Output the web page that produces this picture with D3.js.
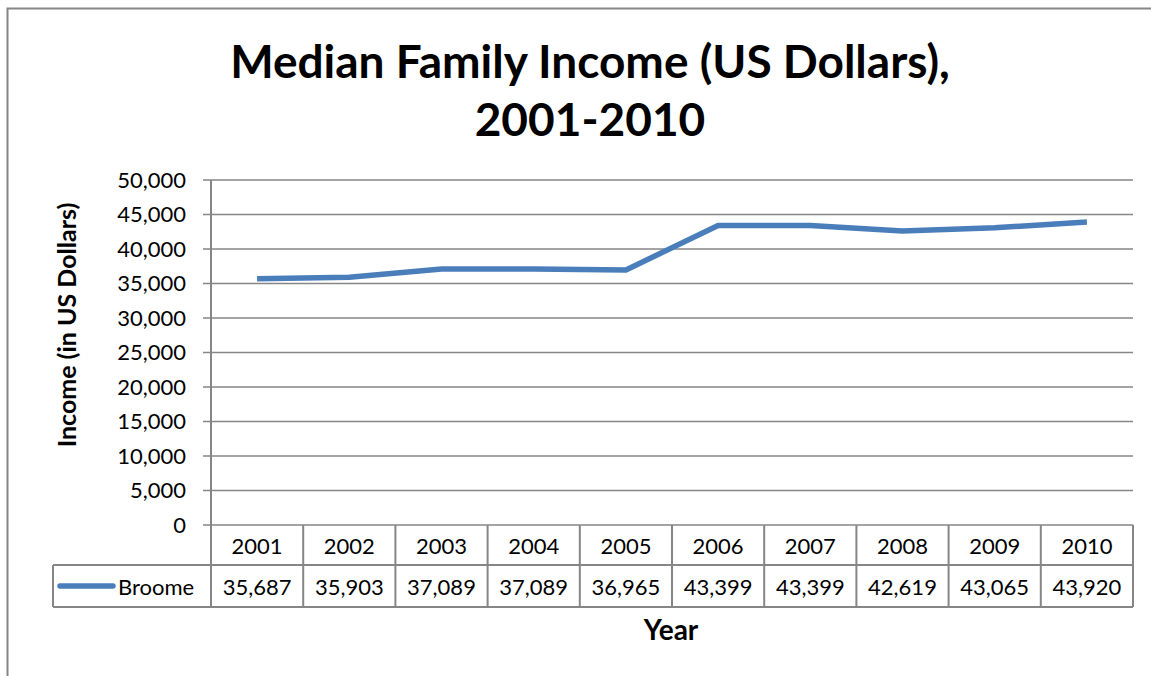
<!DOCTYPE html>
<meta charset="utf-8">
<style>
body { margin: 0; background: #fff; }
text { font-family: Lato, "Open Sans", sans-serif; fill: #000; }
</style>
<body>
<script src="https://d3js.org/d3.v7.min.js"></script>
<script>
// data
var years = ["2001","2002","2003","2004","2005","2006","2007","2008","2009","2010"];
var broome = [35687, 35903, 37089, 37089, 36965, 43399, 43399, 42619, 43065, 43920];
var yTicks = [0, 5000, 10000, 15000, 20000, 25000, 30000, 35000, 40000, 45000, 50000];
var seriesName = "Broome";

var W = 1151, H = 676;
var plotLeft = 211, plotRight = 1133, plotTop = 180, plotBottom = 525;
var row1 = 565, row2 = 607, legendLeft = 53;
var grey = "#868686", blue = "#4a7ebb";

var svg = d3.select("body").append("svg")
    .attr("width", W)
    .attr("height", H);

// chart border
svg.append("rect")
    .attr("x", 7.5).attr("y", 8.5)
    .attr("width", W + 20).attr("height", H + 20)
    .attr("fill", "none").attr("stroke", grey).attr("stroke-width", 2);

var x = d3.scaleBand().domain(years).range([plotLeft, plotRight]).padding(0);
var y = d3.scaleLinear().domain([0, 50000]).range([plotBottom, plotTop]);

// gridlines + ticks
svg.append("g").selectAll("line")
    .data(yTicks)
  .enter().append("line")
    .attr("x1", plotLeft - 8).attr("x2", plotRight)
    .attr("y1", function(d) { return y(d); })
    .attr("y2", function(d) { return y(d); })
    .attr("stroke", grey).attr("stroke-width", 1.5);

svg.append("g").selectAll("text")
    .data(yTicks)
  .enter().append("text")
    .attr("x", 186)
    .attr("y", function(d) { return y(d); })
    .attr("dy", "0.35em")
    .attr("text-anchor", "end")
    .style("font-size", "22px")
    .text(function(d) { return d3.format(",")(d); });

// y axis line running down through the table
svg.append("line")
    .attr("x1", plotLeft).attr("x2", plotLeft)
    .attr("y1", plotTop).attr("y2", row2)
    .attr("stroke", grey).attr("stroke-width", 2);

// data table
var tbl = svg.append("g");
tbl.selectAll("line.col")
    .data(years)
  .enter().append("line")
    .attr("class", "col")
    .attr("x1", function(d) { return x(d) + x.bandwidth(); })
    .attr("x2", function(d) { return x(d) + x.bandwidth(); })
    .attr("y1", plotBottom).attr("y2", row2)
    .attr("stroke", grey).attr("stroke-width", 2);
tbl.append("line")
    .attr("x1", legendLeft).attr("x2", plotRight)
    .attr("y1", row1).attr("y2", row1)
    .attr("stroke", grey).attr("stroke-width", 2);
tbl.append("line")
    .attr("x1", legendLeft).attr("x2", plotRight)
    .attr("y1", row2).attr("y2", row2)
    .attr("stroke", grey).attr("stroke-width", 2);
tbl.append("line")
    .attr("x1", legendLeft).attr("x2", legendLeft)
    .attr("y1", row1).attr("y2", row2)
    .attr("stroke", grey).attr("stroke-width", 2);

tbl.selectAll("text.yr")
    .data(years)
  .enter().append("text")
    .attr("class", "yr")
    .attr("x", function(d) { return x(d) + x.bandwidth() / 2; })
    .attr("y", (plotBottom + row1) / 2 + 1)
    .attr("dy", "0.35em")
    .attr("text-anchor", "middle")
    .style("font-size", "22px")
    .text(function(d) { return d; });

tbl.selectAll("text.val")
    .data(broome)
  .enter().append("text")
    .attr("class", "val")
    .attr("x", function(d, i) { return x(years[i]) + x.bandwidth() / 2; })
    .attr("y", (row1 + row2) / 2 + 1)
    .attr("dy", "0.35em")
    .attr("text-anchor", "middle")
    .style("font-size", "22px")
    .text(function(d) { return d3.format(",")(d); });

// legend key
tbl.append("line")
    .attr("x1", 60).attr("x2", 113)
    .attr("y1", (row1 + row2) / 2).attr("y2", (row1 + row2) / 2)
    .attr("stroke", blue).attr("stroke-width", 5.5)
    .attr("stroke-linecap", "round");
tbl.append("text")
    .attr("x", 118)
    .attr("y", (row1 + row2) / 2 + 1)
    .attr("dy", "0.35em")
    .style("font-size", "22px")
    .text(seriesName);

// the series line
var line = d3.line()
    .x(function(d, i) { return x(years[i]) + x.bandwidth() / 2; })
    .y(function(d) { return y(d); });

svg.append("path")
    .datum(broome)
    .attr("d", line)
    .attr("fill", "none")
    .attr("stroke", blue)
    .attr("stroke-width", 5.5)
    .attr("stroke-linejoin", "round");

// titles
svg.append("text")
    .attr("x", 590).attr("y", 78)
    .attr("text-anchor", "middle")
    .style("font-size", "46px").style("font-weight", "bold")
    .text("Median Family Income (US Dollars),");
svg.append("text")
    .attr("x", 590).attr("y", 136)
    .attr("text-anchor", "middle")
    .style("font-size", "46px").style("font-weight", "bold")
    .text("2001-2010");

svg.append("text")
    .attr("transform", "translate(76,325) rotate(-90)")
    .attr("text-anchor", "middle")
    .style("font-size", "25px").style("font-weight", "bold")
    .text("Income (in US Dollars)");

svg.append("text")
    .attr("x", 671).attr("y", 640)
    .attr("text-anchor", "middle")
    .style("font-size", "28px").style("font-weight", "bold")
    .text("Year");
</script>
</body>
